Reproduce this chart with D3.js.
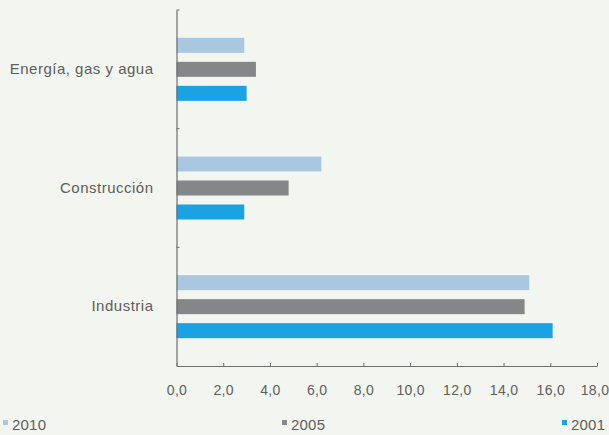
<!DOCTYPE html>
<html>
<head>
<meta charset="utf-8">
<script src="https://cdn.jsdelivr.net/npm/d3@7"></script>
<style>
  html, body { margin: 0; padding: 0; background: #f3f5f1; }
  svg { display: block; font-family: "Liberation Sans", Arial, sans-serif; }
</style>
</head>
<body>
<svg id="chart" width="609" height="435"></svg>
<script>
// ===== DATA =====
const categories = ["Energía, gas y agua", "Construcción", "Industria"];
const series = ["2010", "2005", "2001"];
const values2010 = [2.9, 6.2, 15.1];
const values2005 = [3.4, 4.8, 14.9];
const values2001 = [3.0, 2.9, 16.1];
const xTicks = [0, 2, 4, 6, 8, 10, 12, 14, 16, 18];
const colors = ["#a9c7df", "#858688", "#1ba2e2"];

const valuesBySeries = { "2010": values2010, "2005": values2005, "2001": values2001 };

const svg = d3.select("#chart");
const margin = { left: 176.5, right: 12, top: 10, bottom: 69 };
const W = 609, H = 435;
const textColor = "#5e5e5e";

// ===== SCALES =====
const x = d3.scaleLinear()
  .domain([0, 18])
  .range([margin.left, W - margin.right]);

const y0 = d3.scaleBand()
  .domain(categories)
  .range([margin.top, H - margin.bottom]);

const y1 = d3.scaleBand()
  .domain(series)
  .range([0, y0.bandwidth()])
  .paddingInner(0.375)
  .paddingOuter(1.16);

const color = d3.scaleOrdinal().domain(series).range(colors);

// ===== BARS =====
const groups = svg.append("g")
  .selectAll("g")
  .data(categories)
  .join("g")
  .attr("transform", d => `translate(0,${y0(d)})`);

groups.selectAll("rect")
  .data((c, i) => series.map(s => ({ s, v: valuesBySeries[s][i] })))
  .join("rect")
  .attr("x", x(0))
  .attr("y", d => y1(d.s))
  .attr("width", d => x(d.v) - x(0))
  .attr("height", y1.bandwidth())
  .attr("fill", d => color(d.s));

// ===== AXES =====
const fmt = d => d.toFixed(1).replace(".", ",");

const xAxis = svg.append("g")
  .attr("transform", `translate(0,${H - margin.bottom})`)
  .call(d3.axisBottom(x).tickValues(xTicks).tickFormat(fmt).tickSizeInner(-3).tickSizeOuter(0).tickPadding(19));

const yAxis = svg.append("g")
  .attr("transform", `translate(${margin.left},0)`)
  .call(d3.axisLeft(y0).tickSize(0).tickPadding(23));

// category boundary ticks on the y axis
const yBounds = [margin.top].concat(categories.map(c => y0(c) + y0.bandwidth()).slice(0, -1));
svg.append("g")
  .selectAll("line")
  .data(yBounds)
  .join("line")
  .attr("x1", margin.left)
  .attr("x2", margin.left + 3)
  .attr("y1", d => d)
  .attr("y2", d => d)
  .attr("stroke", "#6e6e6e")
  .attr("stroke-width", 1);

[xAxis, yAxis].forEach(a => {
  a.select(".domain").attr("stroke", "#6e6e6e").attr("stroke-width", 1.2);
  a.selectAll(".tick line").attr("stroke", "#6e6e6e");
  a.selectAll("text").attr("fill", textColor);
});
xAxis.selectAll("text").attr("font-size", 14).attr("letter-spacing", 0.3);
yAxis.selectAll("text").attr("font-size", 15).attr("letter-spacing", 0.5);
// keep the last tick label inside the frame
xAxis.selectAll(".tick text").filter(d => d === 18).attr("dx", -2.5);

// ===== LEGEND =====
const legendX = [3, 282, 562];
const legend = svg.append("g")
  .selectAll("g")
  .data(series)
  .join("g")
  .attr("transform", (d, i) => `translate(${legendX[i]},423)`);

legend.append("rect")
  .attr("x", 0).attr("y", -3)
  .attr("width", 5).attr("height", 5)
  .attr("fill", d => color(d));

legend.append("text")
  .attr("x", 9)
  .attr("y", 1.5)
  .attr("dy", "0.35em")
  .attr("fill", textColor)
  .attr("font-size", 15)
  .attr("letter-spacing", 0.2)
  .text(d => d);
</script>
</body>
</html>
